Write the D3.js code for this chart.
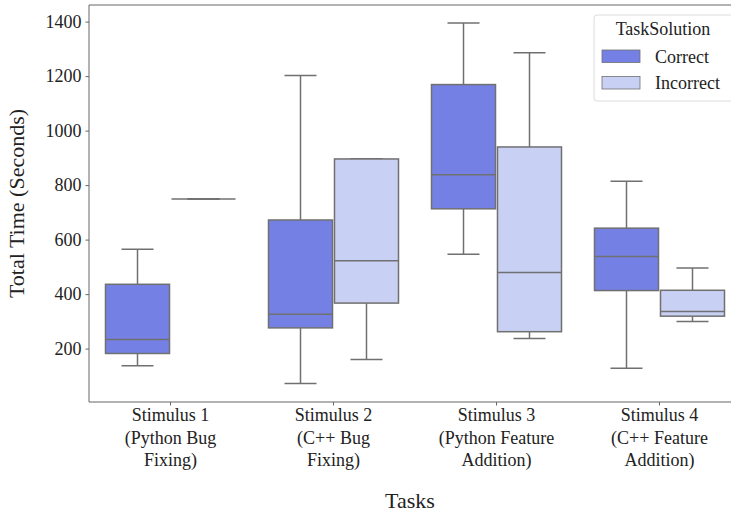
<!DOCTYPE html>
<html>
<head>
<meta charset="utf-8">
<script src="https://cdn.jsdelivr.net/npm/d3@7"></script>
<style>
  body { margin: 0; background: #fff; }
  svg text { font-family: "Liberation Serif", "Times New Roman", Times, "DejaVu Serif", serif !important; }
</style>
</head>
<body>
<svg id="chart" width="731" height="516"></svg>
<script>
// data
const tasks = ['Stimulus 1', 'Stimulus 2', 'Stimulus 3', 'Stimulus 4'];
const taskLines = [
    ['Stimulus 1', '(Python Bug', 'Fixing)'],
    ['Stimulus 2', '(C++ Bug', 'Fixing)'],
    ['Stimulus 3', '(Python Feature', 'Addition)'],
    ['Stimulus 4', '(C++ Feature', 'Addition)']
];
const solutions = ['Correct', 'Incorrect'];

// [whiskerLow, q1, median, q3, whiskerHigh]
const correctStats = [
    [137, 182, 233, 436, 565],
    [72, 276, 326, 672, 1202],
    [546, 713, 838, 1169, 1395],
    [128, 413, 538, 642, 814]
];
const incorrectStats = [
    [749, 749, 749, 749, 749],
    [160, 367, 522, 896, 897],
    [237, 262, 479, 940, 1286],
    [299, 319, 336, 414, 496]
];
const yTicks = [200, 400, 600, 800, 1000, 1200, 1400];

const colorOf = { Correct: '#7480e4', Incorrect: '#c8d0f4' };
const edge = '#707070';
const FONT = '"Liberation Serif", "Times New Roman", Times, "DejaVu Serif", serif';

const margin = { left: 89, top: 5, right: 741, bottom: 402 };
const svg = d3.select('#chart');

var x = d3.scaleBand().domain(tasks).range([margin.left, margin.right]);
var hue = d3.scaleBand().domain(solutions).range([0, x.bandwidth()]).paddingOuter(0.25).paddingInner(0.03);
var y = d3.scaleLinear().domain([4, 1461]).range([margin.bottom, margin.top]);

// build rows
var rows = [];
tasks.forEach((t, i) => {
    rows.push({ task: t, sol: 'Correct', s: correctStats[i] });
    rows.push({ task: t, sol: 'Incorrect', s: incorrectStats[i] });
});

var g = svg.append('g');
var box = g.selectAll('.box').data(rows).enter().append('g')
    .attr('class', 'box')
    .attr('transform', d => 'translate(' + (x(d.task) + hue(d.sol)) + ',0)');

var bw = hue.bandwidth();
var capW = bw / 2;

// whiskers
box.append('line')
    .attr('x1', bw / 2).attr('x2', bw / 2)
    .attr('y1', d => y(d.s[0])).attr('y2', d => y(d.s[1]))
    .attr('stroke', edge).attr('stroke-width', 1.5);
box.append('line')
    .attr('x1', bw / 2).attr('x2', bw / 2)
    .attr('y1', d => y(d.s[3])).attr('y2', d => y(d.s[4]))
    .attr('stroke', edge).attr('stroke-width', 1.5);
// caps
[0, 4].forEach(k => {
    box.append('line')
        .attr('x1', bw / 2 - capW / 2).attr('x2', bw / 2 + capW / 2)
        .attr('y1', d => y(d.s[k])).attr('y2', d => y(d.s[k]))
        .attr('stroke', edge).attr('stroke-width', 1.5);
});
// box body
box.append('rect')
    .attr('x', 0).attr('width', bw)
    .attr('y', d => y(d.s[3]))
    .attr('height', d => y(d.s[1]) - y(d.s[3]))
    .attr('fill', d => colorOf[d.sol])
    .attr('stroke', edge).attr('stroke-width', 1.5);
// median
box.append('line')
    .attr('x1', 0).attr('x2', bw)
    .attr('y1', d => y(d.s[2])).attr('y2', d => y(d.s[2]))
    .attr('stroke', edge).attr('stroke-width', 1.5);

// spines
svg.append('line').attr('x1', margin.left).attr('x2', margin.right)
    .attr('y1', margin.top).attr('y2', margin.top).attr('stroke', '#666').attr('stroke-width', 1);
svg.append('line').attr('x1', margin.left).attr('x2', margin.right)
    .attr('y1', margin.bottom).attr('y2', margin.bottom).attr('stroke', '#666').attr('stroke-width', 1);
svg.append('line').attr('x1', margin.left).attr('x2', margin.left)
    .attr('y1', margin.top).attr('y2', margin.bottom).attr('stroke', '#666').attr('stroke-width', 1);

// y axis
var yAxis = svg.append('g')
    .attr('transform', 'translate(' + margin.left + ',0)')
    .call(d3.axisLeft(y).tickValues(yTicks).tickSize(3.5).tickPadding(4).tickFormat(d3.format('d')));
yAxis.attr('font-family', FONT);
yAxis.select('.domain').remove();
yAxis.selectAll('.tick line').attr('stroke', '#666');
yAxis.selectAll('.tick text').attr('font-size', 18).attr('fill', '#222');

// x axis
var xAxis = svg.append('g')
    .attr('transform', 'translate(0,' + margin.bottom + ')')
    .call(d3.axisBottom(x).tickSize(3.5).tickFormat(''));
xAxis.select('.domain').remove();
xAxis.selectAll('.tick line').attr('stroke', '#666');

svg.selectAll('.xlabel').data(taskLines).enter().append('text')
    .attr('class', 'xlabel')
    .attr('text-anchor', 'middle')
    .attr('font-family', FONT)
    .attr('font-size', 18).attr('fill', '#222')
    .each(function(lines, i) {
        var t = d3.select(this);
        lines.forEach((ln, j) => {
            t.append('tspan')
                .attr('x', x(tasks[i]) + x.bandwidth() / 2)
                .attr('y', 421 + j * 22.5)
                .text(ln);
        });
    });

// axis titles
svg.append('text')
    .attr('x', (margin.left + margin.right) / 2 - 5).attr('y', 508)
    .attr('text-anchor', 'middle').attr('font-family', FONT)
    .attr('font-size', 22).attr('fill', '#222')
    .text('Tasks');
svg.append('text')
    .attr('transform', 'translate(24,' + ((margin.top + margin.bottom) / 2) + ') rotate(-90)')
    .attr('text-anchor', 'middle').attr('font-family', FONT)
    .attr('font-size', 22).attr('fill', '#222')
    .text('Total Time (Seconds)');

// legend
var legend = svg.append('g').attr('transform', 'translate(594,15)').attr('font-family', FONT);
legend.append('rect')
    .attr('width', 140).attr('height', 86).attr('rx', 3)
    .attr('fill', '#fff').attr('fill-opacity', 0.8)
    .attr('stroke', '#dcdcdc').attr('stroke-width', 1);
legend.append('text')
    .attr('x', 69).attr('y', 20).attr('text-anchor', 'middle')
    .attr('font-size', 18).attr('fill', '#222').text('TaskSolution');
var item = legend.selectAll('.item').data(solutions).enter().append('g')
    .attr('class', 'item')
    .attr('transform', (d, i) => 'translate(0,' + (35 + i * 26.5) + ')');
item.append('rect')
    .attr('x', 8).attr('width', 38).attr('height', 12.5)
    .attr('fill', d => colorOf[d]).attr('stroke', edge).attr('stroke-width', 0.8);
item.append('text')
    .attr('x', 61).attr('y', 12.5)
    .attr('font-size', 18).attr('fill', '#222').text(d => d);
</script>
</body>
</html>
